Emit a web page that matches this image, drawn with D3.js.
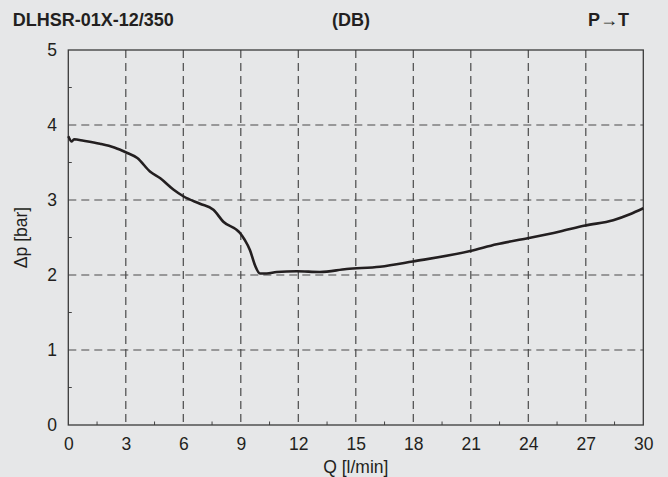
<!DOCTYPE html>
<html>
<head>
<meta charset="utf-8">
<script src="https://cdn.jsdelivr.net/npm/d3@7"></script>
<style>
  body { margin: 0; background: #e6e7e8; }
  svg { display: block; font-family: "Liberation Sans", Arial, sans-serif; }
</style>
</head>
<body>
<script>
// flow Q [l/min] and pressure drop [bar]
var qValues = [0, 0.18, 0.3, 0.8, 1.65, 2.4, 3.05, 3.6, 4.26, 4.8, 5.48, 6.0, 6.87, 7.57, 8.09, 8.96, 9.2, 9.48, 9.74, 10.0,
  10.35, 10.87, 11.92, 13.13, 14.52, 16.26, 17.97, 20.97, 22.35, 23.97, 25.65, 26.97, 28.43, 29.3, 30];
var dpValues = [3.85, 3.78, 3.81, 3.79, 3.75, 3.70, 3.63, 3.56, 3.38, 3.29, 3.14, 3.05, 2.95, 2.87, 2.71, 2.56, 2.47, 2.33, 2.13, 2.02,
  2.02, 2.04, 2.05, 2.04, 2.08, 2.11, 2.18, 2.32, 2.41, 2.49, 2.58, 2.66, 2.73, 2.81, 2.89];

var xTicks = [0, 3, 6, 9, 12, 15, 18, 21, 24, 27, 30];
var yTicks = [0, 1, 2, 3, 4, 5];
var xMinor = [1.5, 4.5, 7.5, 10.5, 13.5, 16.5, 19.5, 22.5, 25.5, 28.5];
var yMinor = [0.5, 1.5, 2.5, 3.5, 4.5];

var titleLeft = "DLHSR-01X-12/350";
var titleMid = "(DB)";
var titleRight = "P\u2192T";
var xTitle = "Q [l/min]";
var yTitle = "\u0394p [bar]";

var width = 668, height = 477;
var ink = "#231f20";

var x = d3.scaleLinear().domain([0, 30]).range([68.3, 643.3]);
var y = d3.scaleLinear().domain([0, 5]).range([425, 50]);

var svg = d3.select("body").append("svg")
    .attr("width", width)
    .attr("height", height);

svg.append("rect")
    .attr("width", width)
    .attr("height", height)
    .attr("fill", "#e6e7e8");

// dashed grid
svg.append("g").selectAll("line")
    .data(xTicks.slice(1, -1))
    .enter().append("line")
    .attr("x1", function(d) { return x(d); })
    .attr("x2", function(d) { return x(d); })
    .attr("y1", y(5))
    .attr("y2", y(0))
    .attr("stroke", "#4a4a4a")
    .attr("stroke-width", 1.2)
    .attr("stroke-dasharray", "8,5");

svg.append("g").selectAll("line")
    .data(yTicks.slice(1, -1))
    .enter().append("line")
    .attr("x1", x(0))
    .attr("x2", x(30))
    .attr("y1", function(d) { return y(d); })
    .attr("y2", function(d) { return y(d); })
    .attr("stroke", "#4a4a4a")
    .attr("stroke-width", 1.2)
    .attr("stroke-dasharray", "8,5");

// minor ticks
svg.append("g").selectAll("line")
    .data(xMinor)
    .enter().append("line")
    .attr("x1", function(d) { return x(d); })
    .attr("x2", function(d) { return x(d); })
    .attr("y1", y(0))
    .attr("y2", y(0) - 3.5)
    .attr("stroke", "#444")
    .attr("stroke-width", 1);

svg.append("g").selectAll("line")
    .data(yMinor)
    .enter().append("line")
    .attr("x1", x(0))
    .attr("x2", x(0) + 3.5)
    .attr("y1", function(d) { return y(d); })
    .attr("y2", function(d) { return y(d); })
    .attr("stroke", "#444")
    .attr("stroke-width", 1);

// frame
svg.append("rect")
    .attr("x", x(0))
    .attr("y", y(5))
    .attr("width", x(30) - x(0))
    .attr("height", y(0) - y(5))
    .attr("fill", "none")
    .attr("stroke", "#3a3a3a")
    .attr("stroke-width", 1.3);

// tick labels
var xAxis = svg.append("g")
    .attr("transform", "translate(0," + y(0) + ")")
    .call(d3.axisBottom(x).tickValues(xTicks).tickSize(0).tickPadding(12.6).tickFormat(d3.format("d")));
var yAxis = svg.append("g")
    .attr("transform", "translate(" + x(0) + ",0)")
    .call(d3.axisLeft(y).tickValues(yTicks).tickSize(0).tickPadding(11.3).tickFormat(d3.format("d")));

[xAxis, yAxis].forEach(function(a) {
    a.select(".domain").remove();
    a.selectAll("text")
        .attr("fill", ink)
        .style("font-size", "17.5px")
        .style("font-family", "'Liberation Sans', Arial, sans-serif");
});

// curve
var pts = qValues.map(function(q, i) { return [q, dpValues[i]]; });
var line = d3.line()
    .x(function(d) { return x(d[0]); })
    .y(function(d) { return y(d[1]); })
    .curve(d3.curveMonotoneX);

svg.append("path")
    .datum(pts)
    .attr("d", line)
    .attr("fill", "none")
    .attr("stroke", ink)
    .attr("stroke-width", 2.6)
    .attr("stroke-linejoin", "round");

// titles
var head = svg.append("g")
    .attr("fill", ink)
    .style("font-size", "18px")
    .style("font-weight", "bold");
head.append("text").attr("x", 12.7).attr("y", 26).text(titleLeft);
head.append("text").attr("x", 351).attr("y", 26).attr("text-anchor", "middle").text(titleMid);
head.append("text").attr("x", 588).attr("y", 26).text(titleRight);

svg.append("text")
    .attr("x", (x(0) + x(30)) / 2)
    .attr("y", 473)
    .attr("text-anchor", "middle")
    .attr("fill", ink)
    .style("font-size", "17.5px")
    .text(xTitle);

svg.append("text")
    .attr("transform", "translate(26.5," + y(2.5) + ") rotate(-90)")
    .attr("text-anchor", "middle")
    .attr("fill", ink)
    .style("font-size", "17.5px")
    .text(yTitle);
</script>
</body>
</html>
